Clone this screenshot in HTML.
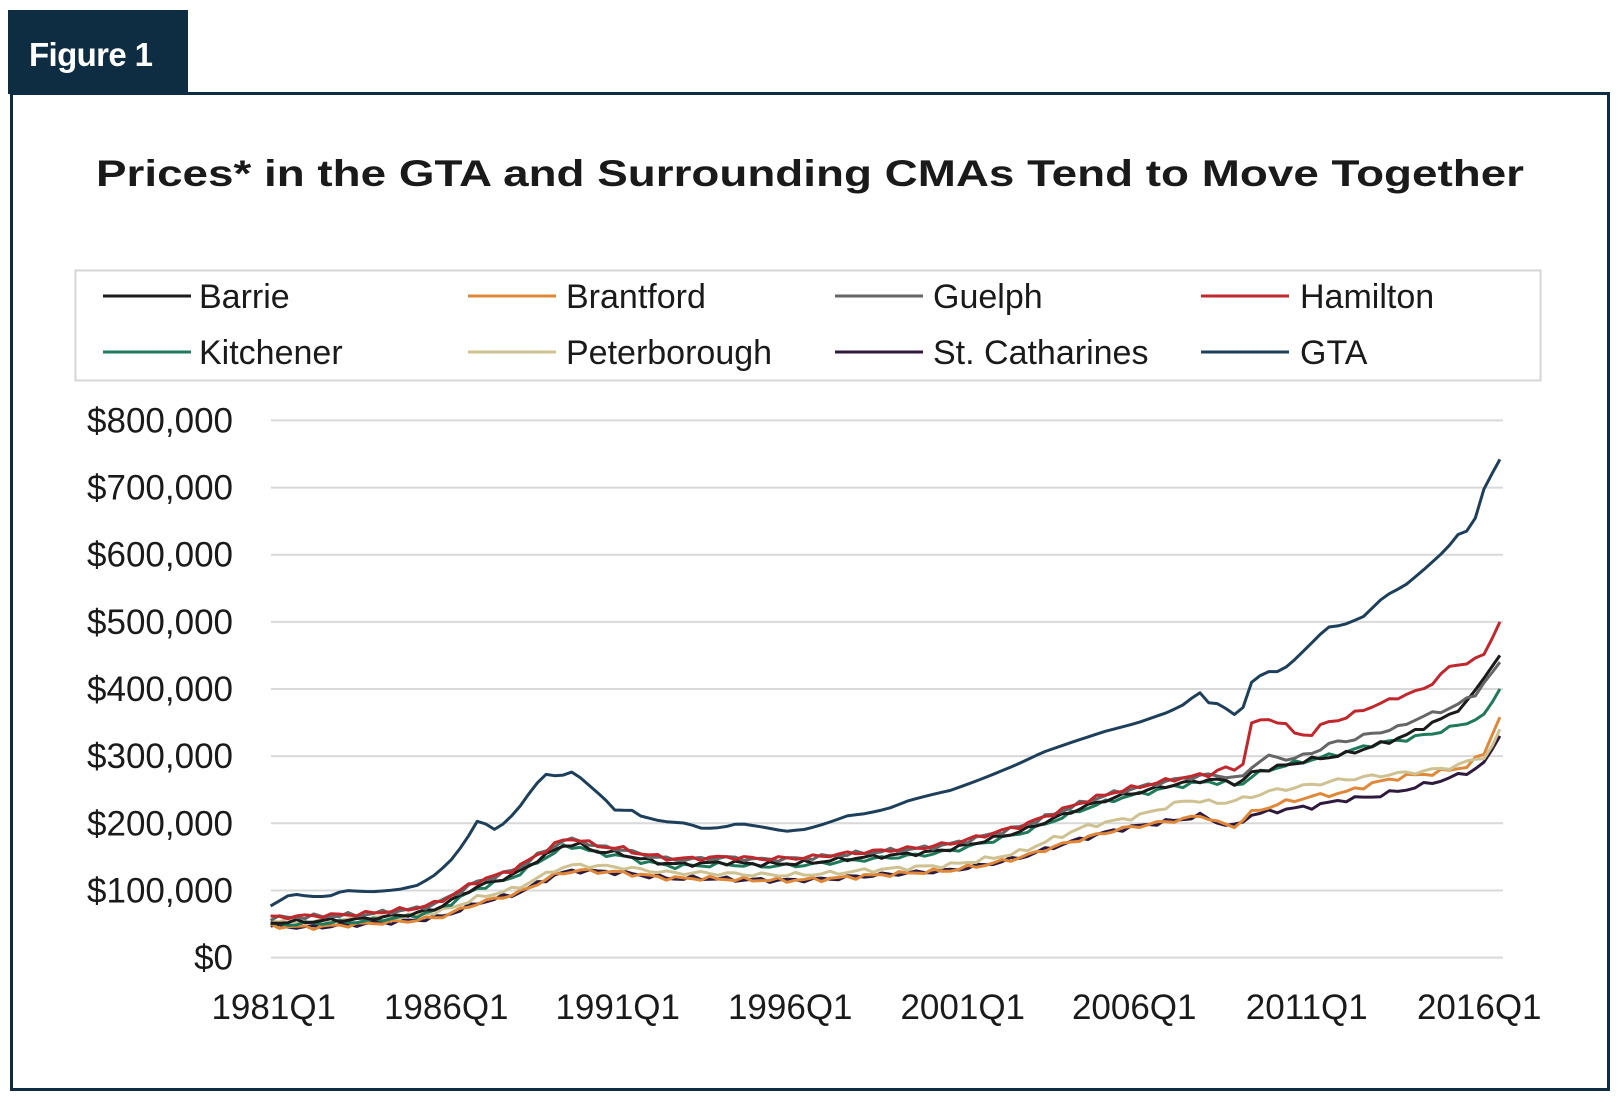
<!DOCTYPE html>
<html><head><meta charset="utf-8"><style>
html,body{margin:0;padding:0;background:#fff;}
svg{display:block;font-family:"Liberation Sans",sans-serif;}
</style></head><body>
<svg id="s" width="1620" height="1106" viewBox="0 0 1620 1106" xmlns="http://www.w3.org/2000/svg">
<rect x="8" y="10" width="180" height="84" fill="#0f2d42"/>
<text x="29" y="66" font-size="33" fill="#fff" font-weight="bold" textLength="124">Figure 1</text>
<rect x="11.5" y="93.5" width="1597" height="996" fill="none" stroke="#0f2d42" stroke-width="3"/>
<text x="96" y="186" font-size="37" font-weight="bold" fill="#1a1a1a" textLength="1428" lengthAdjust="spacingAndGlyphs">Prices* in the GTA and Surrounding CMAs Tend to Move Together</text>
<rect x="75.5" y="270.5" width="1465" height="110" fill="none" stroke="#d6d6d6" stroke-width="2"/>
<g id="grid"></g>
<g id="leg" font-size="34" fill="#1a1a1a"></g>
<g id="lines" fill="none" stroke-width="3" stroke-linejoin="round"></g>
</svg>
<script>
var NS="http://www.w3.org/2000/svg",S=1.033;
function el(p,t,a,txt){var e=document.createElementNS(NS,t);for(var k in a)e.setAttribute(k,a[k]);if(txt!=null)e.textContent=txt;document.getElementById(p).appendChild(e);return e;}
function Y(k){return (927-k*0.65)*S;}
// grid + y labels
for(var i=0;i<=8;i++){var y=Y(i*100);
 el("grid","line",{x1:271,x2:1503,y1:y,y2:y,stroke:"#d9d9d9","stroke-width":2});
 el("grid","text",{x:233,y:y+12,"font-size":35,"text-anchor":"end",fill:"#1a1a1a"},i==0?"$0":"$"+i+"00,000");}
var xl=[265,432,598,765,932,1098,1265,1432],yr=[1981,1986,1991,1996,2001,2006,2011,2016];
xl.forEach(function(x,i){el("grid","text",{x:x*S,y:1019,"font-size":35,"text-anchor":"middle",fill:"#1a1a1a"},yr[i]+"Q1");});
var leg=[["Barrie","#1a1a1a"],["Brantford","#e0883a"],["Guelph","#666666"],["Hamilton","#c0282d"],["Kitchener","#1f7a5c"],["Peterborough","#cfc292"],["St. Catharines","#2e1a3d"],["GTA","#1d3f5a"]];
var cx=[103,468,835,1201],tx=[199,566,933,1300];
leg.forEach(function(l,i){var c=i%4,r=Math.floor(i/4),y=r?352:296;
 el("leg","line",{x1:cx[c],x2:cx[c]+88,y1:y,y2:y,stroke:l[1],"stroke-width":3});
 el("leg","text",{x:tx[c],y:y+12},l[0]);});
function interp(pts,x){if(x<=pts[0][0])return pts[0][1];for(var i=1;i<pts.length;i++){if(x<=pts[i][0]){var a=pts[i-1],b=pts[i];return a[1]+(b[1]-a[1])*(x-a[0])/(b[0]-a[0]);}}return pts[pts.length-1][1];}
function merge(base,tail,off){var t0=tail?tail[0][0]:1e9;var r=base.filter(function(p){return p[0]<t0;}).map(function(p){return [p[0],p[1]+(off||0)];});return tail?r.concat(tail):r;}
var U=[[262,55],[300,57],[350,60],[400,68],[420,75],[440,90],[460,108],[480,117],[500,128],[520,148],[545,170],[560,172],[575,162],[600,158],[620,150],[650,142],[680,143],[700,145],[740,142],[780,144],[820,150],[860,155],[900,160],[930,168],[960,180],[990,192],[1020,210],[1050,228],[1080,242],[1110,252],[1140,262],[1170,268],[1190,266],[1200,260],[1220,275],[1250,290],[1280,300],[1310,310],[1340,320],[1370,332],[1400,348],[1430,375],[1452,420]];
var L=[[262,47],[300,45],[350,50],[400,55],[430,62],[460,80],[480,88],[500,95],[520,110],[540,125],[560,130],[580,128],[600,127],[620,123],[650,118],[680,118],[720,116],[760,115],[800,117],[840,122],[880,126],[920,130],[960,140],[990,150],[1020,165],[1050,178],[1080,190],[1110,198],[1140,205],[1165,212],[1180,200],[1195,195],[1210,212],[1240,220],[1270,225],[1300,235],[1330,240],[1360,250],[1390,262],[1420,275],[1437,290],[1452,330]];
var series={
"Hamilton":merge(U,[[1190,285],[1200,270],[1212,350],[1225,355],[1240,352],[1255,332],[1270,333],[1285,352],[1300,355],[1320,370],[1340,380],[1360,392],[1380,400],[1400,430],[1420,440],[1437,450],[1452,500]],5),
"Guelph":merge(U,[[1215,290],[1230,300],[1250,295],[1270,305],[1290,320],[1310,325],[1330,335],[1350,340],[1370,355],[1390,365],[1410,375],[1430,395],[1452,440]],4),
"Barrie":merge(U,[[1210,275],[1240,285],[1270,295],[1300,302],[1330,315],[1360,330],[1380,345],[1400,358],[1420,380],[1452,450]],-3),
"Kitchener":merge(U,[[1210,270],[1240,285],[1270,295],[1300,305],[1330,318],[1360,325],[1390,335],[1420,350],[1437,360],[1452,400]],-6),
"Brantford":merge(L,[[1210,215],[1240,230],[1270,240],[1300,245],[1330,260],[1360,270],[1390,275],[1420,285],[1437,305],[1452,358]],0),
"Peterborough":merge(L,[[1000,165],[1050,195],[1100,210],[1150,235],[1180,230],[1200,235],[1230,248],[1260,255],[1300,265],[1340,272],[1380,278],[1410,285],[1425,295],[1440,300],[1452,340]],8),
"St. Catharines":L,
"GTA":[[262,77],[282,95],[300,91],[318,91],[333,100],[360,98],[385,101],[405,108],[420,122],[435,142],[450,172],[465,211],[475,188],[485,196],[500,218],[518,257],[530,275],[540,269],[555,277],[570,257],[585,237],[598,215],[608,223],[620,211],[640,203],[665,200],[680,192],[700,194],[715,200],[740,194],[760,188],[780,191],[800,200],[820,211],[840,215],[860,222],[880,234],[900,242],[920,249],[940,260],[960,272],[985,288],[1010,306],[1040,322],[1070,337],[1100,349],[1130,365],[1150,380],[1160,398],[1168,380],[1180,378],[1195,362],[1200,355],[1210,408],[1225,426],[1240,426],[1255,446],[1270,469],[1285,492],[1300,495],[1320,508],[1340,538],[1360,554],[1380,580],[1400,608],[1412,631],[1425,638],[1437,700],[1452,742]]};
var order=["St. Catharines","Brantford","Peterborough","Kitchener","Barrie","Guelph","Hamilton","GTA"];
var col={};leg.forEach(function(l){col[l[0]]=l[1];});
order.forEach(function(n,si){var pts=series[n],d="";
 for(var q=0;q<=143;q++){var x=262+q*8.33;if(x>1452)x=1452;
  var v=interp(pts,x);if(n!="GTA"&&q<142)v+=2.5*Math.sin(q*1.7+si*2.3)+1.5*Math.sin(q*3.1+si);
  d+=(q?"L":"M")+(x*S).toFixed(1)+","+Y(v).toFixed(1);}
 el("lines","path",{d:d,stroke:col[n]});});
</script>
</body></html>
